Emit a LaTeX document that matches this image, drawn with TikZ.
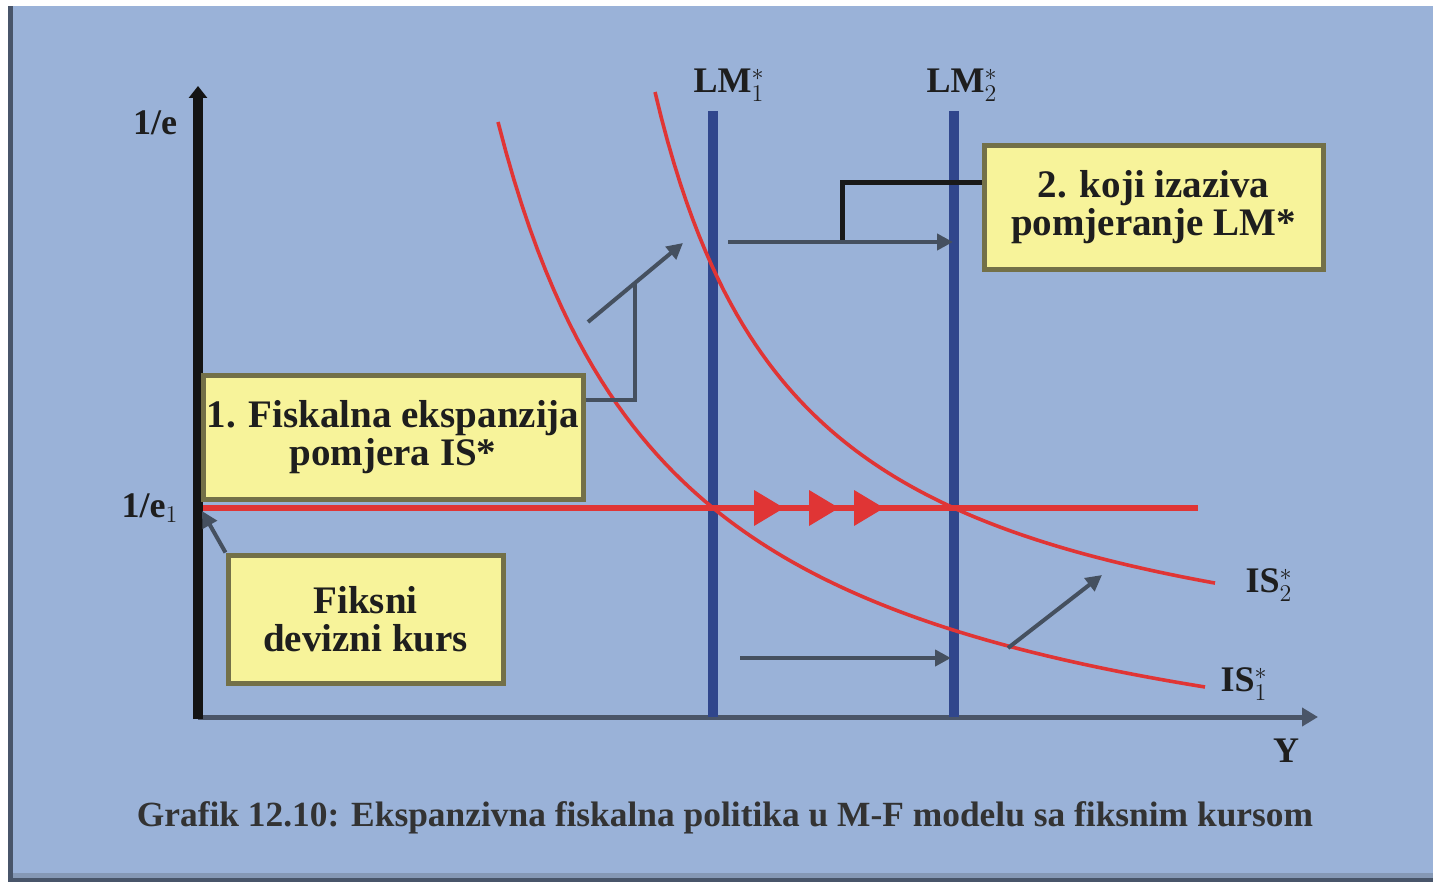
\documentclass[tikz,border=0pt]{standalone}
\usepackage{fontspec}
\setmainfont{Liberation Serif}
\usetikzlibrary{arrows.meta}
\definecolor{bgblue}{HTML}{9AB2D8}
\definecolor{frame}{HTML}{48556A}
\definecolor{band}{HTML}{8598B5}
\definecolor{lmblue}{HTML}{30468C}
\definecolor{isred}{HTML}{E03535}
\definecolor{boxfill}{HTML}{F7F39A}
\definecolor{boxline}{HTML}{737048}
\definecolor{conn}{HTML}{45505F}
\definecolor{txt}{HTML}{1E1E1E}
\definecolor{axisx}{HTML}{4A5568}
\tikzset{
  note/.style={draw=boxline, line width=2.5pt, fill=boxfill, align=center, text=txt,
    font=\fontsize{19.5}{19}\selectfont\bfseries, inner sep=0pt},
  lbl/.style={text=txt, font=\fontsize{18}{20}\selectfont\bfseries, inner sep=0pt},
  connline/.style={draw=conn, line width=2pt},
  connarrow/.style={draw=conn, line width=2pt, -{Triangle[length=8pt,width=8pt]}},
  iscurve/.style={draw=isred, line width=1.8pt},
  lmline/.style={draw=lmblue, line width=5pt},
  redtri/.style={fill=isred}
}
\begin{document}
\begin{tikzpicture}[x=0.5pt,y=-0.5pt]
\useasboundingbox (0,0) rectangle (1433,882);
% background and frame
\fill[white] (0,0) rectangle (1433,882);
\fill[bgblue] (8,6) rectangle (1433,882);
\fill[band] (8,873) rectangle (1433,878);
\fill[frame] (8,878) rectangle (1433,882);
\fill[frame] (8,6) rectangle (13,882);

% axes
\coordinate (origin) at (198,717);
\coordinate (ytop) at (198,86);
\coordinate (xend) at (1318,717);
\draw[draw=axisx, line width=2.5pt, -{Triangle[length=8pt,width=9pt]}] (origin) -- (xend);
\draw[draw=black!92, line width=5pt, -{Triangle[length=6pt,width=9pt]}] (198,719) -- (ytop);

% LM lines
\coordinate (lm1top) at (713,111);
\coordinate (lm1bot) at (713,717);
\coordinate (lm2top) at (954,111);
\coordinate (lm2bot) at (954,717);
\draw[lmline] (lm1top) -- (lm1bot);
\draw[lmline] (lm2top) -- (lm2bot);

% red horizontal line
\coordinate (rl) at (203,508);
\coordinate (rr) at (1198,508);
\draw[draw=isred, line width=2.6pt] (rl) -- (rr);
\fill[redtri] (754,490) -- (784,508) -- (754,526) -- cycle;
\fill[redtri] (809,490) -- (839,508) -- (809,526) -- cycle;
\fill[redtri] (854,490) -- (884,508) -- (854,526) -- cycle;

% IS curves
\draw[iscurve] plot[domain=498:1205, samples=90] (\x, {830.6 - 1273.41/((\x-318.3)/100)});
\draw[iscurve] plot[domain=655:1215, samples=90] (\x, {710.9 - 902.3/((\x-509.2)/100)});

% labels
\node[lbl] (le) at (155,123) {1/e};
\node[lbl] (le1) at (150,508) {1/e$_1$};
\node[lbl] (lm1) at (729,85) {LM$^{*}_{1}$};
\node[lbl] (lm2) at (962,85) {LM$^{*}_{2}$};
\node[lbl] (is2) at (1269,585) {IS$^{*}_{2}$};
\node[lbl] (is1) at (1244,684) {IS$^{*}_{1}$};
\node[lbl] (ylab) at (1286,751) {Y};

% boxes
\node[note, minimum width=190pt, minimum height=62pt] (b1) at (393,437)
  {1. Fiskalna ekspanzija\\pomjera IS*};
\node[note, minimum width=169.5pt, minimum height=61.5pt] (b2) at (1153.5,207.5)
  {2. koji izaziva\\pomjeranje LM*};
\node[note, minimum width=137.5pt, minimum height=64pt] (b3) at (365.5,619)
  {Fiksni\\devizni kurs};

% connectors
\coordinate (k1) at (635,400);
\coordinate (d1) at (635,283);
\coordinate (a1s) at (588,322);
\coordinate (a1e) at (683,243);
\draw[connline] (b1.east |- k1) -- (k1) -- (d1);
\draw[connarrow] (a1s) -- (a1e);

\coordinate (k2) at (842,183);
\coordinate (k3) at (842,242);
\coordinate (a2s) at (728,242);
\coordinate (a2e) at (953,242);
\draw[draw=black!90, line width=2.5pt] (b2.west |- k2) -- (k2) -- (k3);
\draw[connarrow] (a2s) -- (a2e);

\coordinate (a3s) at (740,658);
\coordinate (a3e) at (951,658);
\draw[connarrow] (a3s) -- (a3e);

\coordinate (a4s) at (1008,648);
\coordinate (a4e) at (1102,575);
\draw[connarrow] (a4s) -- (a4e);

\coordinate (a5e) at (202,511);
\draw[connarrow] (b3.north west) -- (a5e);

% caption
\node[lbl, text=black!80, font=\fontsize{17.7}{19}\selectfont\bfseries] (cap) at (725,818)
  {Grafik 12.10: Ekspanzivna fiskalna politika u M-F modelu sa fiksnim kursom};
\end{tikzpicture}
\end{document}
